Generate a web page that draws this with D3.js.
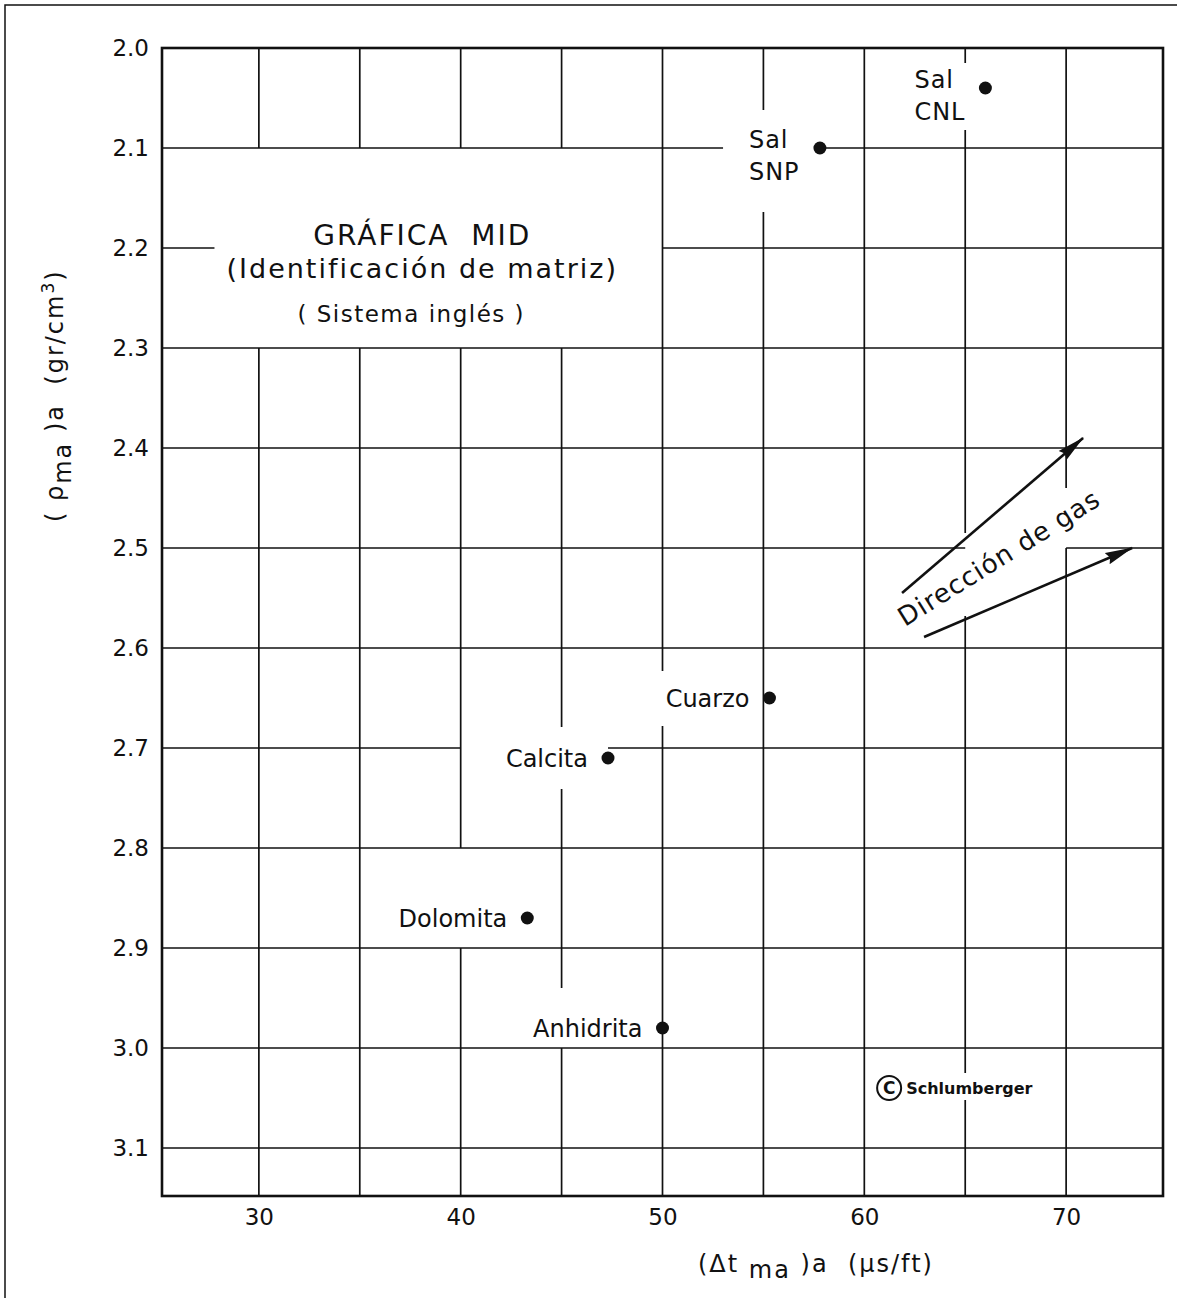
<!DOCTYPE html>
<html>
<head>
<meta charset="utf-8">
<script src="https://cdn.jsdelivr.net/npm/d3@7"></script>
<style>
  body { margin: 0; background: #fff; }
  svg { display: block; font-family: "DejaVu Sans", sans-serif; }
  text { fill: #111; white-space: pre; }
</style>
</head>
<body>
<svg id="chart" width="1177" height="1298"></svg>
<script>
// Apparent matrix transit time (us/ft) and apparent matrix density (g/cm3) per mineral
const mineralLabels = [["Sal", "CNL"], ["Sal", "SNP"], ["Cuarzo"], ["Calcita"], ["Dolomita"], ["Anhidrita"]];
const dtMatrix  = [66.0, 57.8, 55.3, 47.3, 43.3, 50.0];
const rhoMatrix = [2.04, 2.10, 2.65, 2.71, 2.87, 2.98];

// Axes
const xExtent = [25.2, 74.8];
const yExtent = [2.0, 3.148];
const xTickValues = [30, 40, 50, 60, 70];
const xGridValues = [30, 35, 40, 45, 50, 55, 60, 65, 70];
const yTickValues = [2.0, 2.1, 2.2, 2.3, 2.4, 2.5, 2.6, 2.7, 2.8, 2.9, 3.0, 3.1];
const yGridValues = [2.1, 2.2, 2.3, 2.4, 2.5, 2.6, 2.7, 2.8, 2.9, 3.0, 3.1];

// Grid lines are interrupted where lettering sits on the chart
const verticalGaps = [
  { at: 30, from: 2.1, to: 2.3 }, { at: 35, from: 2.1, to: 2.3 },
  { at: 40, from: 2.1, to: 2.3 }, { at: 45, from: 2.1, to: 2.3 },
  { at: 40, from: 2.8, to: 2.9 },
  { at: 45, from: 2.679, to: 2.741 }, { at: 45, from: 2.94, to: 3.0 },
  { at: 50, from: 2.623, to: 2.678 },
  { at: 55, from: 2.062, to: 2.164 },
  { at: 65, from: 2.015, to: 2.082 }, { at: 65, from: 2.485, to: 2.568 },
  { at: 65, from: 3.025, to: 3.052 },
  { at: 70, from: 2.44, to: 2.5 }
];
const horizontalGaps = [
  { at: 2.1, from: 53.0, to: 57.8 },
  { at: 2.2, from: 27.8, to: 50.0 },
  { at: 2.5, from: 65.0, to: 70.0 },
  { at: 2.7, from: 40.0, to: 47.3 }
];

// Gas-effect direction arrows (start -> end, in chart units)
const gasArrows = [
  { x0: 61.87, y0: 2.545, x1: 70.84, y1: 2.39 },
  { x0: 62.96, y0: 2.589, x1: 73.27, y1: 2.50 }
];

const svg = d3.select("#chart");
const ink = "#111";

const x = d3.scaleLinear().domain(xExtent).range([162, 1163]);
const y = d3.scaleLinear().domain(yExtent).range([48, 1196]);

// Outer frame of the sheet
svg.append("path")
  .attr("d", "M5,1298 V5 H1177")
  .attr("fill", "none").attr("stroke", ink).attr("stroke-width", 1.5);

function splitRange(extent, gaps) {
  let segs = [[extent[0], extent[1]]];
  gaps.forEach(g => {
    segs = segs.flatMap(([a, b]) => {
      if (g.to <= a || g.from >= b) return [[a, b]];
      const out = [];
      if (g.from > a) out.push([a, g.from]);
      if (g.to < b) out.push([g.to, b]);
      return out;
    });
  });
  return segs;
}

const grid = svg.append("g").attr("stroke", ink).attr("stroke-width", 1.7);

xGridValues.forEach(v => {
  const segs = splitRange(yExtent, verticalGaps.filter(g => g.at === v));
  segs.forEach(([a, b]) => {
    grid.append("line")
      .attr("x1", x(v)).attr("x2", x(v))
      .attr("y1", y(a)).attr("y2", y(b));
  });
});

yGridValues.forEach(v => {
  const segs = splitRange(xExtent, horizontalGaps.filter(g => Math.abs(g.at - v) < 1e-9));
  segs.forEach(([a, b]) => {
    grid.append("line")
      .attr("y1", y(v)).attr("y2", y(v))
      .attr("x1", x(a)).attr("x2", x(b));
  });
});

// Plot border
svg.append("rect")
  .attr("x", x(xExtent[0])).attr("y", y(yExtent[0]))
  .attr("width", x(xExtent[1]) - x(xExtent[0]))
  .attr("height", y(yExtent[1]) - y(yExtent[0]))
  .attr("fill", "none").attr("stroke", ink).attr("stroke-width", 2.6);

// Axes (labels only; the grid carries the lines)
const yAxis = svg.append("g")
  .attr("transform", `translate(${x(xExtent[0])},0)`)
  .call(d3.axisLeft(y).tickValues(yTickValues).tickFormat(d3.format(".1f")).tickSize(0).tickPadding(13));
yAxis.select(".domain").remove();
yAxis.selectAll("text").attr("font-size", 23).attr("fill", ink)
  .attr("font-family", "DejaVu Sans, sans-serif");

const xAxis = svg.append("g")
  .attr("transform", `translate(0,${y(yExtent[1])})`)
  .call(d3.axisBottom(x).tickValues(xTickValues).tickFormat(d3.format("d")).tickSize(0).tickPadding(13));
xAxis.select(".domain").remove();
xAxis.selectAll("text").attr("font-size", 23).attr("fill", ink)
  .attr("font-family", "DejaVu Sans, sans-serif");

// Axis titles
const xTitle = svg.append("text")
  .attr("x", 698).attr("y", 1272)
  .attr("font-size", 24).attr("letter-spacing", 2);
xTitle.append("tspan").text("(\u0394t ");
xTitle.append("tspan").attr("dy", 6).text("ma");
xTitle.append("tspan").attr("dy", -6).text(" )a  (\u03BCs/ft)");

const yTitle = svg.append("text")
  .attr("transform", "translate(63,522) rotate(-90)")
  .attr("font-size", 24).attr("letter-spacing", 2);
yTitle.append("tspan").text("( \u03C1");
yTitle.append("tspan").attr("dy", 8).text("ma");
yTitle.append("tspan").attr("dy", -8).text(" )a  (gr/cm");
yTitle.append("tspan").attr("dy", -9).attr("font-size", 17).text("3");
yTitle.append("tspan").attr("dy", 9).text(")");

// Chart title block
const titleX = (x(25.2) + x(50)) / 2 + 10;
svg.append("text").attr("x", titleX).attr("y", 245)
  .attr("text-anchor", "middle").attr("font-size", 28).attr("letter-spacing", 2)
  .text("GR\u00C1FICA  MID");
svg.append("text").attr("x", titleX).attr("y", 278)
  .attr("text-anchor", "middle").attr("font-size", 27).attr("letter-spacing", 2)
  .text("(Identificaci\u00F3n de matriz)");
svg.append("text").attr("x", titleX - 11).attr("y", 322)
  .attr("text-anchor", "middle").attr("font-size", 23).attr("letter-spacing", 1.5)
  .text("( Sistema ingl\u00E9s )");

// Mineral points
const points = dtMatrix.map((dt, i) => ({ dt, rho: rhoMatrix[i], label: mineralLabels[i] }));

svg.append("g").selectAll("circle").data(points).join("circle")
  .attr("cx", d => x(d.dt)).attr("cy", d => y(d.rho))
  .attr("r", 6.5).attr("fill", ink);

const labels = svg.append("g").attr("font-size", 24);
points.forEach(d => {
  if (d.label.length === 1) {
    labels.append("text")
      .attr("x", x(d.dt) - 20).attr("y", y(d.rho) + 9)
      .attr("text-anchor", "end").text(d.label[0]);
  } else {
    d.label.forEach((line, j) => {
      labels.append("text")
        .attr("x", x(d.dt) - 71).attr("y", y(d.rho) + j * 32)
        .attr("letter-spacing", 1).text(line);
    });
  }
});

// Gas direction arrows
svg.append("defs").append("marker")
  .attr("id", "head").attr("viewBox", "0 0 28 14")
  .attr("refX", 27).attr("refY", 7)
  .attr("markerWidth", 28).attr("markerHeight", 14)
  .attr("markerUnits", "userSpaceOnUse").attr("orient", "auto")
  .append("path").attr("d", "M0,1 L28,7 L0,13 L3,7 Z").attr("fill", ink);

svg.append("g").selectAll("line").data(gasArrows).join("line")
  .attr("x1", d => x(d.x0)).attr("y1", d => y(d.y0))
  .attr("x2", d => x(d.x1)).attr("y2", d => y(d.y1))
  .attr("stroke", ink).attr("stroke-width", 2.6)
  .attr("marker-end", "url(#head)");

svg.append("text")
  .attr("transform", `translate(${x(62.02)},${y(2.579)}) rotate(-32)`)
  .attr("font-size", 26).attr("letter-spacing", 1)
  .text("Direcci\u00F3n de gas");

// Copyright mark
const cx = x(61.23), cy = y(3.04);
svg.append("circle").attr("cx", cx).attr("cy", cy).attr("r", 12)
  .attr("fill", "none").attr("stroke", ink).attr("stroke-width", 2);
svg.append("text").attr("x", cx).attr("y", cy + 6)
  .attr("text-anchor", "middle").attr("font-size", 17).attr("font-weight", "bold").text("C");
svg.append("text").attr("x", cx + 17).attr("y", cy + 6)
  .attr("font-size", 16).attr("font-weight", "bold").text("Schlumberger");
</script>
</body>
</html>
